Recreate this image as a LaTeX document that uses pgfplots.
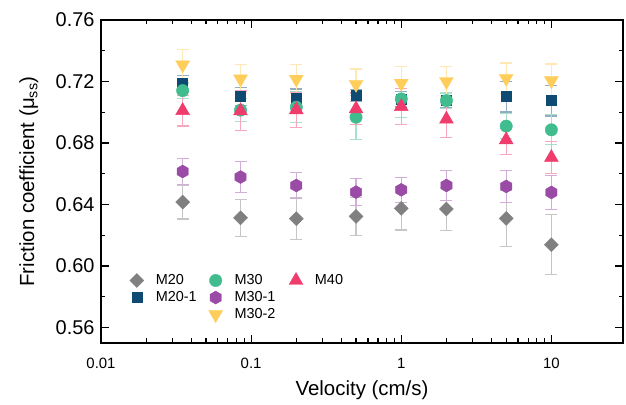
\documentclass[border=0pt]{standalone}
\usepackage{fontspec}
\setmainfont{Liberation Sans}
\usepackage{pgfplots}
\usepackage{pgfplotstable}
\pgfplotsset{compat=1.18}

\definecolor{cgrey}{RGB}{128,128,128}
\definecolor{cnavy}{RGB}{14,74,114}
\definecolor{cgreen}{RGB}{64,188,143}
\definecolor{cpurple}{RGB}{153,75,165}
\definecolor{cyellow}{RGB}{255,205,90}
\definecolor{cred}{RGB}{240,60,108}

\pgfdeclareplotmark{hexagon*}{%
  \pgfpathmoveto{\pgfqpointpolar{90}{\pgfplotmarksize}}%
  \pgfpathlineto{\pgfqpointpolar{150}{\pgfplotmarksize}}%
  \pgfpathlineto{\pgfqpointpolar{210}{\pgfplotmarksize}}%
  \pgfpathlineto{\pgfqpointpolar{270}{\pgfplotmarksize}}%
  \pgfpathlineto{\pgfqpointpolar{330}{\pgfplotmarksize}}%
  \pgfpathlineto{\pgfqpointpolar{30}{\pgfplotmarksize}}%
  \pgfpathclose
  \pgfusepathqfillstroke
}
\pgfdeclareplotmark{rdiamond*}{%
  \pgfpathmoveto{\pgfqpoint{0pt}{\pgfplotmarksize}}%
  \pgfpathlineto{\pgfqpoint{-\pgfplotmarksize}{0pt}}%
  \pgfpathlineto{\pgfqpoint{0pt}{-\pgfplotmarksize}}%
  \pgfpathlineto{\pgfqpoint{\pgfplotmarksize}{0pt}}%
  \pgfpathclose
  \pgfusepathqfillstroke
}

\pgfplotstableread{
x     a      ea      b      eb     c      ec      d      ed      e      ee      f      ef
0.035 0.6416 0.011   0.7189 0.005  0.7141 0.005   0.6615 0.0085  0.7308 0.010   0.7011 0.010
0.085 0.6314 0.012   0.7102 0.006  0.7014 0.0075  0.6579 0.010   0.7217 0.0095  0.7009 0.013
0.2   0.6308 0.0135  0.7091 0.006  0.7033 0.010   0.6524 0.0085  0.7215 0.0095  0.7016 0.0115
0.5   0.6323 0.0124  0.7109 0.004  0.6968 0.0143  0.6481 0.0087  0.7182 0.010   0.7022 0.0104
1     0.6375 0.014   0.7085 0.005  0.7087 0.012   0.6496 0.008   0.7189 0.011   0.7037 0.0117
2     0.6371 0.014   0.7080 0.005  0.7076 0.005   0.6524 0.0098  0.7200 0.0097  0.6955 0.012
5     0.6310 0.018   0.7102 0.010  0.6910 0.008   0.6518 0.0102  0.7221 0.010   0.6821 0.0093
10    0.6139 0.0195  0.7076 0.010  0.6886 0.0097  0.6479 0.011   0.7206 0.0108  0.6706 0.0105
}\data

\pgfplotsset{
  eb/.style={error bars/y dir=both, error bars/y explicit,
    error bars/error bar style={color=#1!45, line width=1.2bp},
    error bars/error mark options={rotate=90, mark size=6bp, line width=1.2bp, color=#1!45}},
}

\begin{document}
\begin{tikzpicture}
\useasboundingbox (-101bp,-62bp) rectangle (525bp,343bp);
\begin{axis}[
  scale only axis,
  width=522bp, height=323bp,
  xmode=log,
  xmin=0.01, xmax=30,
  ymin=0.55, ymax=0.76,
  xtick={0.01,0.1,1,10},
  xticklabels={0.01,0.1,1,10},
  ytick={0.56,0.60,0.64,0.68,0.72,0.76},
  minor ytick={0.58,0.62,0.66,0.70,0.74},
  /pgf/number format/assume math mode=true,
  yticklabel style={/pgf/number format/fixed, /pgf/number format/fixed zerofill, /pgf/number format/precision=2, font=\fontsize{20}{24}\selectfont, xshift=-3bp},
  xticklabel style={font=\fontsize{15}{18}\selectfont, yshift=-12bp},
  tick align=inside,
  major tick length=8bp,
  minor tick length=4.5bp,
  every tick/.style={line width=1.2bp, black},
  axis line style={line width=1.3bp},
  xlabel={Velocity (cm/s)},
  ylabel={Friction coefficient (μ\textsubscript{ss})},
  xlabel style={font=\fontsize{20.5}{24}\selectfont, at={(axis description cs:0.5,-0.146)}, anchor=center},
  ylabel style={font=\fontsize{20.5}{24}\selectfont, at={(axis description cs:-0.138,0.5)}, anchor=center},
  legend columns=3,
  legend style={draw=none, fill=none, font=\fontsize{14.5}{17}\selectfont,
    at={(axis description cs:0.050,0.222)}, anchor=north west,
    column sep=10bp, row sep=1.5bp, inner sep=1bp},
  legend cell align=left,
]
\addplot[forget plot, only marks, mark=rdiamond*, mark size=7bp, mark options={fill=cgrey, draw=cgrey}, eb=cgrey]
  table[x=x, y=a, y error=ea] {\data};
\addplot[forget plot, only marks, mark=square*, mark size=5bp, mark options={fill=cnavy, draw=cnavy}, eb=cnavy]
  table[x=x, y=b, y error=eb] {\data};
\addplot[forget plot, only marks, mark=*, mark size=6.2bp, mark options={fill=cgreen, draw=cgreen}, eb=cgreen]
  table[x=x, y=c, y error=ec] {\data};
\addplot[forget plot, only marks, mark=hexagon*, mark size=6.5bp, mark options={fill=cpurple, draw=cpurple}, eb=cpurple]
  table[x=x, y=d, y error=ed] {\data};
\addplot[forget plot, only marks, mark=triangle*, mark size=8bp, mark options={rotate=180, fill=cyellow, draw=cyellow}, eb=cyellow]
  table[x=x, y=e, y error=ee] {\data};
\addplot[forget plot, only marks, mark=triangle*, mark size=8bp, mark options={fill=cred, draw=cred}, eb=cred]
  table[x=x, y=f, y error=ef] {\data};

\addlegendimage{only marks, mark=rdiamond*, mark size=7bp, mark options={fill=cgrey, draw=cgrey}}
\addlegendentry{M20}
\addlegendimage{only marks, mark=*, mark size=6.2bp, mark options={fill=cgreen, draw=cgreen}}
\addlegendentry{M30}
\addlegendimage{only marks, mark=triangle*, mark size=8bp, mark options={fill=cred, draw=cred}}
\addlegendentry{M40}
\addlegendimage{only marks, mark=square*, mark size=5bp, mark options={fill=cnavy, draw=cnavy}}
\addlegendentry{M20-1}
\addlegendimage{only marks, mark=hexagon*, mark size=6.5bp, mark options={fill=cpurple, draw=cpurple}}
\addlegendentry{M30-1}
\addlegendimage{empty legend}
\addlegendentry{}
\addlegendimage{empty legend}
\addlegendentry{}
\addlegendimage{only marks, mark=triangle*, mark size=8bp, mark options={rotate=180, fill=cyellow, draw=cyellow}}
\addlegendentry{M30-2}
\end{axis}
\end{tikzpicture}
\end{document}
